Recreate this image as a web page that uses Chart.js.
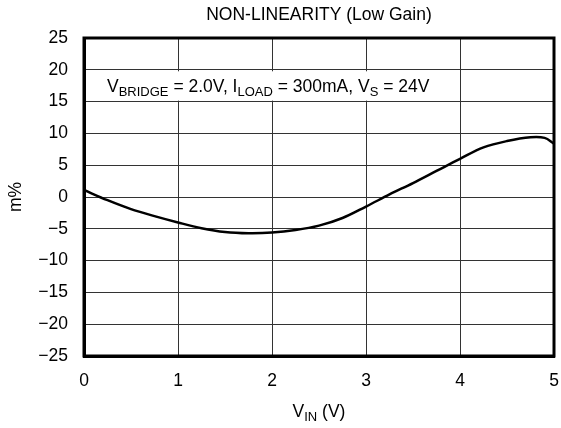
<!DOCTYPE html>
<html>
<head>
<meta charset="utf-8">
<script src="https://cdn.jsdelivr.net/npm/chart.js@4/dist/chart.umd.min.js"></script>
<style>
  html, body { margin: 0; padding: 0; background: #fff; }
  #wrap { width: 561px; height: 428px; }
</style>
</head>
<body>
<div id="wrap"><canvas id="myChart"></canvas></div>
<script>
  // values
  const vin = [0, 0.25, 0.5, 0.75, 1.0, 1.25, 1.5, 1.75, 2.0, 2.25, 2.5, 2.75, 3.0, 3.25, 3.5, 3.75, 4.0, 4.25, 4.5, 4.75, 4.9, 5.0];
  const nonLin = [1.1, -0.5, -1.9, -3.0, -4.0, -4.9, -5.5, -5.7, -5.6, -5.2, -4.5, -3.3, -1.5, 0.4, 2.2, 4.1, 6.0, 7.8, 8.8, 9.4, 9.3, 8.4];
  const xTicks = [0, 1, 2, 3, 4, 5];
  const yTicks = [-25, -20, -15, -10, -5, 0, 5, 10, 15, 20, 25];

  const FONT = '"Liberation Sans", Arial, sans-serif';
  const FS = 17.5;

  const points = vin.map((v, i) => ({ x: v, y: nonLin[i] }));

  // draws text with subscripts: parts = [[text, isSub], ...]
  function drawSubText(ctx, parts, x, y, size, align) {
    const subSize = Math.round(size * 0.74);
    let total = 0;
    parts.forEach(p => {
      ctx.font = (p[1] ? subSize : size) + 'px ' + FONT;
      total += ctx.measureText(p[0]).width;
    });
    let cx = align === 'center' ? x - total / 2 : x;
    ctx.textAlign = 'left';
    ctx.textBaseline = 'alphabetic';
    parts.forEach(p => {
      ctx.font = (p[1] ? subSize : size) + 'px ' + FONT;
      ctx.fillText(p[0], cx, p[1] ? y + size * 0.25 : y);
      cx += ctx.measureText(p[0]).width;
    });
  }

  const textPlugin = {
    id: 'textPlugin',
    beforeDatasetsDraw(chart) {
      const ctx = chart.ctx;
      const x = chart.scales.x, y = chart.scales.y;
      // white band behind the condition text
      ctx.save();
      ctx.fillStyle = '#fff';
      const top = y.getPixelForValue(20) + 1.5;
      const bot = y.getPixelForValue(15) - 1;
      ctx.fillRect(x.getPixelForValue(0) + 2, top, x.getPixelForValue(3.85) - x.getPixelForValue(0), bot - top);
      ctx.fillStyle = '#000';
      drawSubText(ctx, [['V', false], ['BRIDGE', true], [' = 2.0V, I', false], ['LOAD', true], [' = 300mA, V', false], ['S', true], [' = 24V', false]],
        x.getPixelForValue(0.245), y.getPixelForValue(17.5) + 6, FS, 'left');
      ctx.restore();
    },
    afterDraw(chart) {
      const ctx = chart.ctx;
      const area = chart.chartArea;
      const cx = (area.left + area.right) / 2;
      ctx.save();
      ctx.fillStyle = '#000';
      ctx.font = FS + 'px ' + FONT;
      ctx.textAlign = 'center';
      ctx.textBaseline = 'alphabetic';
      ctx.fillText('NON-LINEARITY (Low Gain)', cx, 20);
      drawSubText(ctx, [['V', false], ['IN', true], [' (V)', false]], cx, 417, FS, 'center');
      ctx.translate(21, (area.top + area.bottom) / 2);
      ctx.rotate(-Math.PI / 2);
      ctx.font = FS + 'px ' + FONT;
      ctx.textAlign = 'center';
      ctx.fillText('m%', 0, 0);
      ctx.restore();
    }
  };

  const fmt = v => (v < 0 ? '\u2212' + Math.abs(v) : String(v));

  const config = {
    type: 'line',
    data: {
      datasets: [{
        data: points,
        borderColor: '#000',
        borderWidth: 2.5,
        pointRadius: 0,
        fill: false,
        tension: 0.35
      }]
    },
    options: {
      responsive: true,
      maintainAspectRatio: false,
      animation: false,
      layout: { padding: { left: 0, top: 38, right: 7, bottom: 0 } },
      plugins: {
        legend: { display: false },
        tooltip: { enabled: false }
      },
      scales: {
        x: {
          type: 'linear',
          min: 0,
          max: 5,
          afterBuildTicks: s => { s.ticks = xTicks.map(v => ({ value: v })); },
          afterFit: s => { s.height = 72; s.paddingLeft = 0; s.paddingRight = 0; },
          grid: { color: '#333', lineWidth: 1, drawTicks: false },
          border: { color: '#000', width: 3 },
          ticks: { color: '#000', font: { family: FONT, size: FS }, padding: 15, maxRotation: 0 }
        },
        y: {
          min: -25,
          max: 25,
          afterBuildTicks: s => { s.ticks = yTicks.map(v => ({ value: v })); },
          afterFit: s => { s.width = 84; s.paddingTop = 0; s.paddingBottom = 0; },
          grid: { color: '#333', lineWidth: 1, drawTicks: false },
          border: { color: '#000', width: 3 },
          ticks: { color: '#000', font: { family: FONT, size: FS }, padding: 16, callback: fmt }
        }
      }
    },
    plugins: [textPlugin, {
      id: 'frame',
      afterDatasetsDraw(chart) {
        const a = chart.chartArea, ctx = chart.ctx;
        ctx.save();
        ctx.strokeStyle = '#000';
        ctx.lineWidth = 3;
        ctx.strokeRect(a.left, a.top, a.right - a.left, a.bottom - a.top);
        ctx.restore();
      }
    }]
  };

  new Chart(document.getElementById('myChart'), config);
</script>
</body>
</html>
